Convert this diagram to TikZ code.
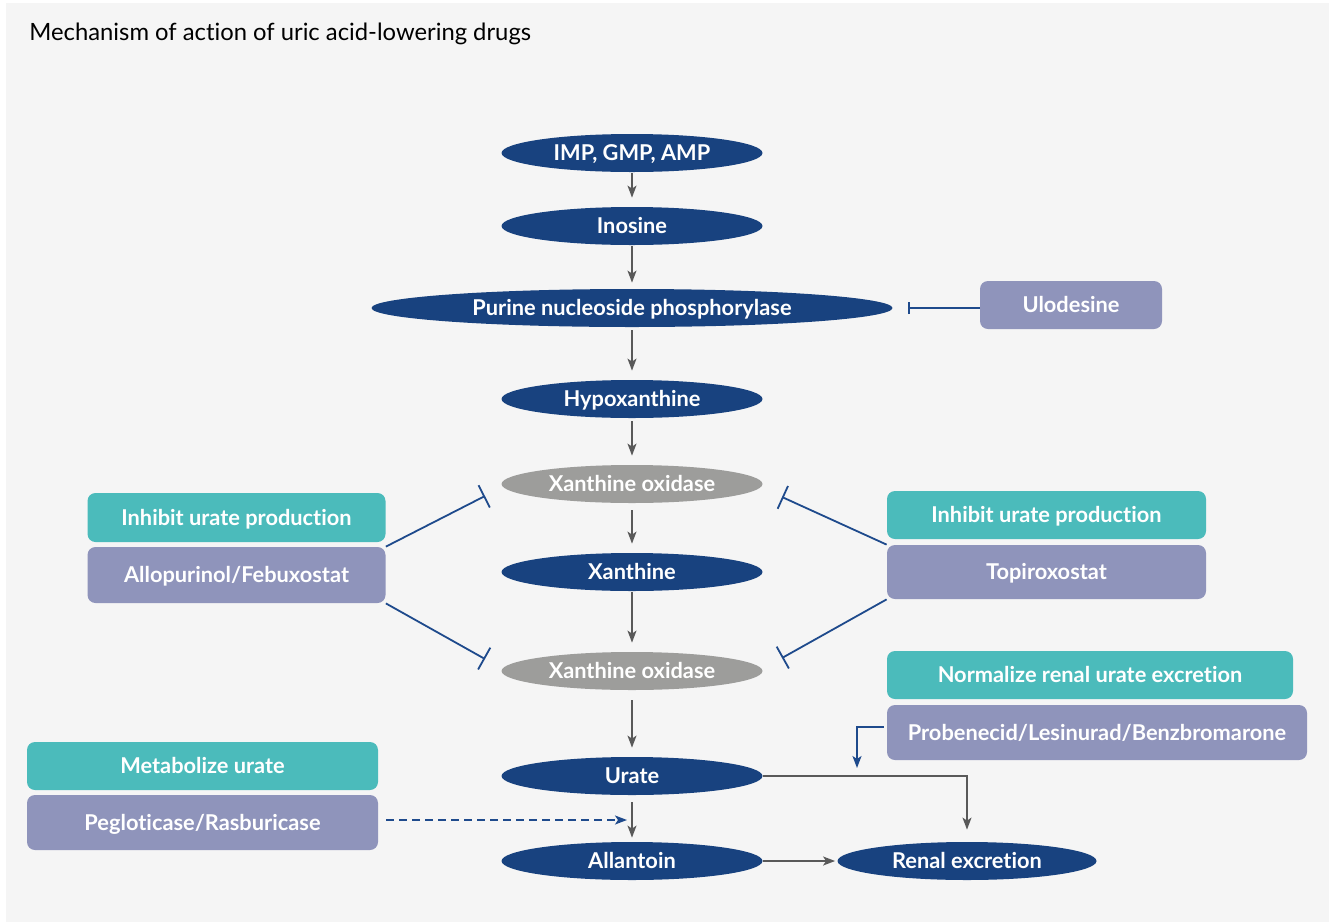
\documentclass[tikz,border=0pt]{standalone}
\usepackage{fontspec}
\setmainfont{Lato}[Ligatures=CommonOff]
\usetikzlibrary{arrows.meta,shapes.geometric}
\definecolor{pathblue}{HTML}{18427F}
\definecolor{drugteal}{HTML}{4BBBBB}
\definecolor{drugpurple}{HTML}{8F94BB}
\definecolor{enzgrey}{HTML}{9D9D9B}
\definecolor{flowgrey}{HTML}{595959}
\definecolor{inhblue}{HTML}{1E4A8C}
\definecolor{panelgrey}{HTML}{F5F5F5}
\tikzset{
  metab/.style={ellipse, fill=pathblue, text=white, inner sep=0pt, minimum width=130.5pt, minimum height=19pt,
    text height=7.5pt, text depth=0pt, font=\fontsize{10.9}{12}\selectfont\bfseries},
  enzyme/.style={metab, fill=enzgrey},
  goalbox/.style={rectangle, rounded corners=4pt, fill=drugteal, text=white, inner sep=0pt,
    text height=7.5pt, text depth=0pt, font=\fontsize{10.9}{12}\selectfont\bfseries},
  drugbox/.style={goalbox, fill=drugpurple},
  flow/.style={draw=flowgrey, line width=0.7pt, -{Stealth[length=6pt,width=4.5pt,inset=1.5pt]},
    shorten >=4.5pt, shorten <=1.5pt},
  inhibit/.style={draw=inhblue, line width=0.9pt, -{Bar[width=12.5pt,line width=0.9pt]}},
  promote/.style={draw=inhblue, line width=0.9pt, -{Stealth[length=6pt,width=4.5pt,inset=1.5pt]}},
}

\begin{document}
\begin{tikzpicture}[x=0.5pt,y=-0.5pt]
\useasboundingbox (0,0) rectangle (1335,922);
\fill[white] (0,0) rectangle (1335,922);
\fill[panelgrey] (6,3) rectangle (1329,922);
\node[anchor=base west, inner sep=0pt, font=\fontsize{11.9}{14}\selectfont] (title) at (29,40) {Mechanism of action of uric acid-lowering drugs};

\node[metab] (imp) at (632,153) {IMP, GMP, AMP};
\node[metab] (ino) at (632,226) {Inosine};
\node[metab, minimum width=260.5pt] (pnp) at (632,308) {Purine nucleoside phosphorylase};
\node[metab] (hypo) at (632,399) {Hypoxanthine};
\node[enzyme] (xoA) at (632,484) {Xanthine oxidase};
\node[metab] (xan) at (632,572) {Xanthine};
\node[enzyme] (xoB) at (632,671) {Xanthine oxidase};
\node[metab] (urate) at (632,776) {Urate};
\node[metab] (allan) at (632,861) {Allantoin};
\node[metab, minimum width=129.5pt] (renal) at (967,861) {Renal excretion};

\node[goalbox, minimum width=149pt, minimum height=24.5pt] (goalL) at (236.5,517.5) {Inhibit urate production};
\node[drugbox, minimum width=149pt, minimum height=28pt] (allo) at (236.5,575) {Allopurinol/Febuxostat};
\node[goalbox, minimum width=159.5pt, minimum height=24pt] (goalR) at (1046.5,515) {Inhibit urate production};
\node[drugbox, minimum width=159.5pt, minimum height=27pt] (topi) at (1046.5,572) {Topiroxostat};
\node[drugbox, minimum width=91pt, minimum height=24pt] (ulo) at (1071,305) {Ulodesine};
\node[goalbox, minimum width=203pt, minimum height=24pt] (goalN) at (1090,675) {Normalize renal urate excretion};
\node[drugbox, minimum width=210pt, minimum height=27.5pt] (probe) at (1097,732.5) {Probenecid/Lesinurad/Benzbromarone};
\node[goalbox, minimum width=175.5pt, minimum height=24pt] (goalM) at (202.5,766) {Metabolize urate};
\node[drugbox, minimum width=175.5pt, minimum height=27.5pt] (peg) at (202.5,822.5) {Pegloticase/Rasburicase};

\coordinate (barU) at (908,308);
\coordinate (barLA) at (485,496);
\coordinate (barLB) at (485,659);
\coordinate (barRA) at (782,497);
\coordinate (barRB) at (782,658);
\coordinate (probeTip) at (857,768);
\coordinate (pegTip) at (627,820);

\draw[flow, shorten <=0.5pt] (imp) -- (ino);
\draw[flow, shorten <=0.5pt, shorten >=3pt] (ino) -- (pnp);
\draw[flow] (pnp) -- (hypo);
\draw[flow] (hypo) -- (xoA);
\draw[flow, shorten <=3.5pt] (xoA) -- (xan);
\draw[flow, shorten <=0.5pt] (xan) -- (xoB);
\draw[flow, shorten <=5pt] (xoB) -- (urate);
\draw[flow, shorten <=3.5pt, shorten >=2pt] (urate) -- (allan);
\draw[flow, shorten <=0pt, shorten >=6pt] (urate.east) -| (renal.north);
\draw[flow, shorten <=0pt, shorten >=1pt] (allan) -- (renal);

\draw[inhibit, -{Bar[width=6pt,line width=0.9pt]}] (ulo.west |- barU) -- (barU);
\draw[inhibit] (allo.north east) -- (barLA);
\draw[inhibit] (allo.south east) -- (barLB);
\draw[inhibit] (topi.north west) -- (barRA);
\draw[inhibit] (topi.south west) -- (barRB);
\draw[promote, shorten <=1.5pt] ([yshift=2.75pt]probe.west) -| (probeTip);
\draw[promote, dash pattern=on 4pt off 2.5pt, shorten <=4pt] (peg.east |- pegTip) -- (pegTip);
\end{tikzpicture}
\end{document}
